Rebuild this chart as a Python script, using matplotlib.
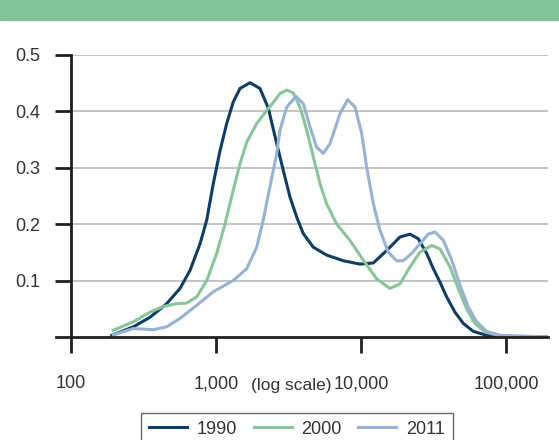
import matplotlib
matplotlib.use("Agg")
import matplotlib.pyplot as plt
import numpy as np

plt.rcParams['font.family'] = ['Liberation Sans', 'DejaVu Sans']

# log10 of income vs density
logx_1990 = [2.281, 2.430, 2.545, 2.660, 2.752, 2.821, 2.890, 2.936, 2.981, 3.028, 3.074, 3.119,
             3.166, 3.234, 3.303, 3.361, 3.419, 3.464, 3.510, 3.557, 3.602, 3.671, 3.763, 3.878,
             3.993, 4.085, 4.177, 4.269, 4.338, 4.395, 4.453, 4.499, 4.545, 4.591, 4.648, 4.706,
             4.774, 4.867, 4.981, 5.281]
y_1990 = [0.003, 0.018, 0.035, 0.059, 0.086, 0.118, 0.165, 0.207, 0.271, 0.330, 0.378, 0.416,
          0.440, 0.450, 0.440, 0.405, 0.342, 0.295, 0.248, 0.212, 0.183, 0.159, 0.145, 0.135,
          0.129, 0.131, 0.153, 0.177, 0.182, 0.174, 0.148, 0.121, 0.097, 0.071, 0.044, 0.024,
          0.010, 0.003, 0.001, 0.0]

logx_2000 = [2.292, 2.430, 2.545, 2.637, 2.729, 2.798, 2.867, 2.936, 3.005, 3.062, 3.119, 3.166,
             3.212, 3.281, 3.350, 3.395, 3.441, 3.488, 3.533, 3.579, 3.626, 3.671, 3.717, 3.763,
             3.832, 3.924, 4.016, 4.108, 4.200, 4.269, 4.338, 4.407, 4.488, 4.545, 4.614, 4.671,
             4.729, 4.786, 4.855, 4.959, 5.281]
y_2000 = [0.012, 0.027, 0.044, 0.054, 0.059, 0.060, 0.071, 0.100, 0.148, 0.200, 0.260, 0.307,
          0.345, 0.378, 0.401, 0.415, 0.431, 0.437, 0.432, 0.407, 0.366, 0.319, 0.272, 0.236,
          0.200, 0.171, 0.136, 0.103, 0.086, 0.094, 0.124, 0.150, 0.162, 0.156, 0.124, 0.086,
          0.050, 0.024, 0.009, 0.002, 0.0]

logx_2011 = [2.292, 2.430, 2.568, 2.660, 2.752, 2.867, 2.981, 3.119, 3.212, 3.281, 3.326, 3.372,
             3.419, 3.441, 3.488, 3.552, 3.602, 3.648, 3.694, 3.740, 3.786, 3.855, 3.908, 3.959,
             4.005, 4.039, 4.085, 4.131, 4.188, 4.246, 4.292, 4.350, 4.407, 4.464, 4.510, 4.568,
             4.626, 4.683, 4.740, 4.798, 4.867, 4.959, 5.281]
y_2011 = [0.004, 0.015, 0.013, 0.018, 0.033, 0.056, 0.080, 0.100, 0.121, 0.159, 0.207, 0.266,
          0.325, 0.366, 0.407, 0.426, 0.413, 0.372, 0.336, 0.325, 0.342, 0.395, 0.420, 0.407,
          0.360, 0.301, 0.236, 0.189, 0.150, 0.135, 0.135, 0.148, 0.165, 0.182, 0.186, 0.171,
          0.136, 0.092, 0.053, 0.027, 0.010, 0.003, 0.0]

xticks = [100, 1000, 10000, 100000]
xticklabels = ['100', '1,000', '10,000', '100,000']
yticks = [0.1, 0.2, 0.3, 0.4, 0.5]
yticklabels = ['0.1', '0.2', '0.3', '0.4', '0.5']

c1990 = '#0e3d66'
c2000 = '#88c69a'
c2011 = '#98b2d6'
axis_c = '#231f20'
text_c = '#333333'

fig = plt.figure(figsize=(5.59, 4.40), dpi=100)

# green header band
fig.patches.append(plt.Rectangle((0, 1 - 20 / 440), 1, 20 / 440, transform=fig.transFigure,
                                 color='#80c497', zorder=0))

xmin = 10 ** 1.893
xmax = 10 ** 5.290
ax = fig.add_axes([55.5 / 559, 1 - 337 / 440, (548 - 55.5) / 559, (337 - 54.5) / 440])
ax.set_xscale('log')
ax.set_xlim(xmin, xmax)
ax.set_ylim(0, 0.5)

for yv in yticks:
    ax.hlines(yv, 100, xmax, color='#b5b5b5', lw=1.1, zorder=1)

ax.plot(10 ** np.array(logx_1990), y_1990, color=c1990, lw=2.2, label='1990', zorder=3,
        solid_joinstyle='round')
ax.plot(10 ** np.array(logx_2000), y_2000, color=c2000, lw=2.2, label='2000', zorder=3,
        solid_joinstyle='round')
ax.plot(10 ** np.array(logx_2011), y_2011, color=c2011, lw=2.2, label='2011', zorder=3,
        solid_joinstyle='round')

for s in ['top', 'right']:
    ax.spines[s].set_visible(False)
ax.spines['left'].set_position(('data', 100))
for s in ['left', 'bottom']:
    ax.spines[s].set_color(axis_c)
    ax.spines[s].set_linewidth(2.0)
    ax.spines[s].set_zorder(4)

ax.set_xticks(xticks)
ax.set_xticklabels(xticklabels)
ax.xaxis.set_minor_locator(matplotlib.ticker.NullLocator())
ax.set_yticks(yticks)
ax.set_yticklabels(yticklabels)
ax.tick_params(axis='both', direction='out', length=11.5, width=2.0, color=axis_c,
               labelsize=13, labelcolor=text_c)
ax.tick_params(axis='x', pad=16)
ax.tick_params(axis='y', pad=11)

ax.text(291 / 559, 1 - 385 / 440, '(log scale)', transform=fig.transFigure, ha='center',
        va='center', fontsize=12.5, color=text_c)

leg = ax.legend(loc='upper center', bbox_to_anchor=(297 / 559, 1 - 412.5 / 440),
                bbox_transform=fig.transFigure, ncol=3, frameon=True, fancybox=False,
                fontsize=13, handlelength=2.1, columnspacing=0.9, handletextpad=0.55,
                borderpad=0.45, borderaxespad=0, labelcolor=text_c)
leg.get_frame().set_edgecolor('#444444')
leg.get_frame().set_linewidth(1.0)

fig.savefig('out.png', dpi=100)
